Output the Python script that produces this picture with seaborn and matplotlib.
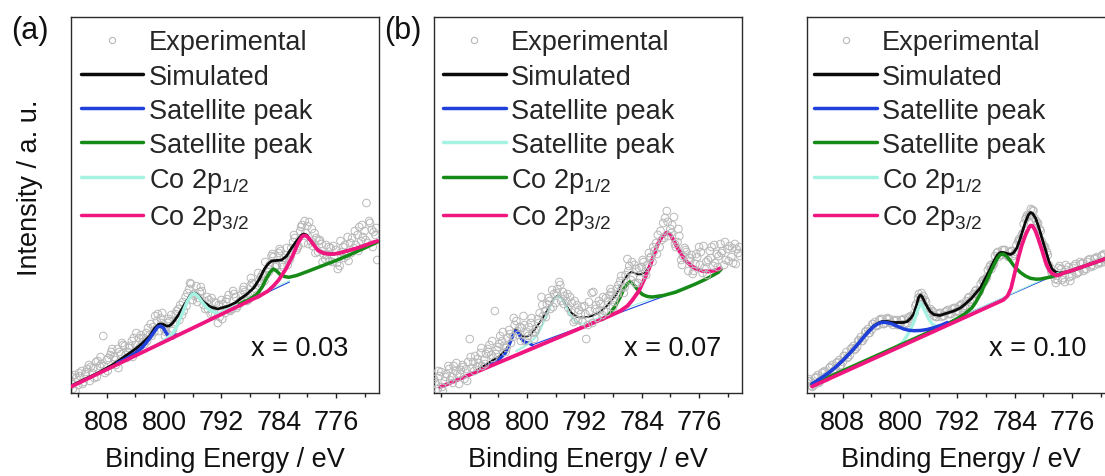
import numpy as np
import matplotlib
matplotlib.use('Agg')
import matplotlib.pyplot as plt
from matplotlib.lines import Line2D
import seaborn as sns

# ---------------- data (intensity in arbitrary units, 0 = bottom of frame) ----------------
# measurement grids of the three interleaved scans (binding energy, eV)
energy_1 = np.arange(813.0, 770.4, -0.5)
energy_2 = energy_1 - 0.25
energy_3 = energy_1 - 0.125

# (a) x = 0.03
a_exp_1 = [12, 18, 8, 22, 19, 28, 20, 31, 27, 57,
           33, 38, 36, 44, 39, 47, 41, 52, 48, 55,
           51, 60, 58, 66, 72, 75, 64, 70, 78, 69,
           84, 78, 96, 104, 93, 107, 101, 88, 96, 79,
           91, 70, 93, 80, 98, 84, 96, 89, 103, 92,
           107, 109, 98, 116, 112, 124, 137, 126, 140, 128,
           138, 133, 151, 143, 162, 150, 167, 152, 160, 141,
           149, 134, 146, 131, 143, 127, 146, 137, 150, 145,
           158, 152, 162, 150, 163, 158]
a_exp_2 = [4, 15, 17, 11, 24, 26, 15, 32, 29, 20,
           35, 44, 28, 41, 48, 35, 47, 55, 43, 58,
           49, 65, 57, 77, 62, 80, 61, 72, 64, 82,
           88, 82, 100, 109, 97, 95, 102, 84, 93, 80,
           90, 76, 89, 94, 82, 99, 87, 98, 101, 93,
           110, 104, 112, 119, 118, 128, 136, 127, 142, 135,
           128, 145, 155, 147, 168, 160, 171, 147, 155, 153,
           139, 138, 145, 136, 124, 141, 148, 132, 155, 148,
           166, 156, 190, 170, 161, 133]
a_exp_3 = [16, 2, 20, 9, 21, 12, 25, 16, 36, 27,
           22, 41, 33, 25, 50, 38, 45, 36, 60, 46,
           55, 52, 69, 61, 79, 70, 57, 74, 62, 79,
           73, 91, 87, 110, 99, 91, 106, 92, 84, 95,
           78, 88, 74, 91, 83, 102, 85, 92, 106, 95,
           115, 101, 120, 110, 131, 121, 139, 128, 144, 126,
           145, 136, 158, 145, 166, 172, 149, 164, 140, 152,
           131, 148, 132, 147, 130, 152, 135, 156, 140, 162,
           142, 168, 153, 172, 146, 165]
a_sim_x = [813, 809, 807, 805, 804, 803, 802, 801.3, 800.7, 800.2,
           799.7, 799.3, 798.8, 798, 797, 796.3, 795.8, 795.3, 794.5, 793.5,
           792.5, 791, 790, 789.4, 788.5, 787.5, 786.7, 786, 785.5, 785,
           784.4, 783.6, 782.9, 782.2, 781.5, 780.8, 780.5, 780.1, 779.6, 779,
           778.5, 777.8, 777, 776.3, 775.5, 774.5, 773, 772, 770.8, 770.2]
a_sim_y = [7, 21, 29, 39, 44, 50, 57, 65, 69, 69,
           67, 67, 70, 78, 90, 98, 100, 98, 91, 86,
           84, 87, 90.5, 94, 98.5, 105, 114, 124, 129, 132,
           132.5, 133, 137, 145, 152, 158, 159, 158, 153, 147,
           142.5, 140, 139, 139, 140, 142, 145, 147.5, 150.7, 152]
a_blue_x = [806.5, 805, 804, 803, 802.2, 801.5, 800.9, 800.5, 800.1, 799.7, 799.3, 798.8, 798.3]
a_blue_y = [30, 35.5, 40, 46, 53, 60, 66, 67, 65, 60, 56, 55, 58]
a_green_x = [789.5, 788, 787, 786.3, 785.7, 785.2, 784.75, 784.3, 783.8, 783.2,
             782.6, 781.5, 780, 778, 776, 774, 772, 770.8, 770.2]
a_green_y = [89, 94, 99, 106, 115, 121, 124, 122, 118.5, 116.5,
             115.7, 117.5, 121.5, 127, 132.5, 138.5, 145, 149, 151]
a_cyan_x = [801.5, 800.5, 799.5, 798.8, 798.2, 797.5, 796.8, 796.2, 795.8, 795.3,
            794.6, 794, 793.3, 792.5]
a_cyan_y = [46, 50, 55, 60, 67, 79, 91, 98, 99.5, 97, 90, 85, 81.5, 80]
a_pink_x = [813, 786.5, 785.5, 784.75, 784, 783, 782, 781.3, 780.8, 780.5,
            780.1, 779.6, 779, 778.5, 777.8, 777, 776.3, 775.5, 774.5, 773,
            772, 770.8, 770.2]
a_pink_y = [6.3, 97.7, 102, 107, 113, 124, 138, 150, 156, 157.5,
            157, 153, 147, 142.5, 140, 139, 139, 140, 142, 145,
            147.5, 150.7, 152]
a_blue_bg = ([798.3, 782.5], [58, 111])
a_cyan_bg = ([792.5, 782.5], [80, 112.5])

# (b) x = 0.07
b_exp_1 = [14, 4, 21, 12, 27, 16, 22, 9, 28, 24,
           54, 31, 26, 40, 33, 44, 38, 82, 46, 52,
           41, 63, 56, 72, 66, 77, 61, 70, 54, 74,
           96, 82, 95, 103, 90, 111, 101, 92, 96, 71,
           88, 79, 87, 68, 100, 84, 92, 78, 95, 98,
           86, 104, 112, 100, 134, 113, 128, 110, 126, 121,
           140, 131, 150, 146, 170, 182, 164, 176, 151, 133,
           145, 122, 138, 129, 146, 120, 131, 142, 127, 139,
           149, 128, 144, 136, 149, 140]
b_exp_2 = [9, 17, 2, 19, 13, 27, 19, 23, 14, 31,
           25, 37, 30, 27, 39, 48, 35, 43, 57, 47,
           55, 50, 68, 58, 65, 52, 66, 60, 64, 80,
           77, 89, 84, 99, 104, 92, 97, 85, 90, 73,
           83, 71, 54, 82, 101, 75, 89, 82, 92, 101,
           95, 108, 105, 118, 127, 116, 124, 114, 131, 128,
           136, 142, 158, 153, 175, 157, 168, 146, 157, 137,
           141, 132, 122, 136, 141, 125, 133, 146, 130, 137,
           142, 133, 147, 130, 144, 137]
b_exp_3 = [11, 22, 6, 16, 24, 10, 30, 19, 26, 12,
           36, 22, 34, 45, 29, 41, 52, 39, 49, 61,
           45, 59, 75, 62, 52, 68, 57, 75, 61, 70,
           88, 76, 92, 86, 100, 108, 89, 99, 81, 92,
           73, 86, 79, 91, 70, 88, 83, 96, 81, 104,
           91, 99, 117, 106, 122, 131, 110, 125, 133, 118,
           135, 146, 139, 162, 155, 171, 160, 149, 164, 128,
           143, 135, 119, 139, 128, 147, 118, 135, 148, 126,
           140, 151, 132, 145, 129, 146]
b_sim_x = [812.2, 808, 805, 804, 803, 802.5, 802, 801.7, 801.3, 800.7,
           800.2, 799.6, 799, 798, 797, 796.2, 795.7, 795.2, 794.5, 793.8,
           793, 792, 791, 790, 789, 788.3, 787.6, 787, 786.5, 786,
           785.5, 785, 784.5, 784, 783.5, 783, 782.3, 781.8, 781.2, 780.5,
           780, 779.5, 779, 778.4, 777.9, 777.2, 776.5, 775.5, 774.7, 773.8, 773]
b_sim_y = [5.7, 18, 32, 36, 43, 49, 58, 64, 63, 57,
           56, 58, 63, 73, 85, 95, 97.5, 95, 87, 80,
           76, 75.5, 77, 80, 86, 92, 98, 106, 113, 118,
           121, 120, 118.5, 119, 121, 126, 138, 148, 156, 160.5,
           158.5, 152, 145, 138, 132.5, 128, 124.5, 122, 121.5, 122.5, 124.7]
b_blue_x = [806, 804, 803, 802.5, 802, 801.7, 801.3, 800.8, 800.3, 799.8, 799.3]
b_blue_y = [24.5, 33, 40, 48, 57, 62, 61, 54, 51, 50, 48]
b_cyan_x = [801.5, 800.5, 799.5, 798.8, 798.2, 797.5, 796.8, 796.2, 795.7, 795.2,
            794.5, 794, 793.3, 792.5]
b_cyan_y = [42, 46, 51, 56, 63, 74, 86, 94, 97, 94.5, 86, 78, 72, 69]
b_green_x = [789.5, 788.5, 787.6, 787, 786.5, 786, 785.6, 785.2, 784.8, 784.4,
             783.9, 783.2, 782.5, 781, 779.3, 778, 776.5, 775, 773.3, 772.9]
b_green_y = [73.5, 79, 88, 96, 104, 109.5, 111.3, 109, 105.5, 102,
             98.5, 96.5, 96, 97.5, 100.7, 104.5, 109, 114, 120.7, 124]
b_pink_x = [812.2, 788.5, 787, 786, 785.3, 784.4, 783.5, 783, 782.3, 781.8,
            781.2, 780.5, 780, 779.5, 779, 778.4, 777.9, 777.2, 776.5, 775.5,
            774.7, 773.8, 773]
b_pink_y = [5.7, 77, 82, 87, 93, 102, 116, 124, 138, 148,
            156, 160.5, 158.5, 152, 145, 138, 132.5, 128, 124.5, 122,
            121.5, 122.5, 124.7]
b_blue_bg = ([799.3, 777], [48, 107])
b_cyan_bg = ([792.5, 777], [69, 108.5])

# (c) x = 0.10
c_exp_1 = [10, 12, 8, 18, 14, 22, 19, 28, 24, 33,
           31, 41, 38, 47, 46, 56, 55, 64, 63, 71,
           68, 74, 70, 74, 68, 73, 69, 74, 70, 77,
           80, 95, 100, 93, 82, 82, 76, 80, 77, 82,
           79, 85, 82, 88, 87, 95, 93, 102, 101, 112,
           114, 126, 128, 140, 138, 143, 137, 142, 139, 152,
           158, 174, 177, 183, 172, 164, 148, 141, 125, 118,
           113, 124, 111, 126, 117, 129, 121, 130, 124, 134,
           127, 136, 130, 139, 133, 140]
c_exp_2 = [14, 6, 16, 11, 21, 17, 26, 22, 31, 28,
           37, 36, 45, 44, 53, 52, 62, 60, 69, 67,
           74, 69, 75, 70, 72, 68, 73, 69, 76, 76,
           89, 96, 97, 85, 84, 77, 79, 76, 81, 79,
           84, 81, 87, 85, 92, 91, 99, 99, 109, 111,
           123, 124, 137, 136, 143, 138, 141, 137, 148, 152,
           169, 178, 184, 175, 170, 152, 146, 128, 119, 110,
           127, 115, 123, 112, 127, 120, 129, 124, 133, 128,
           135, 131, 138, 133, 139, 137]
c_exp_3 = [12, 7, 15, 10, 20, 15, 25, 21, 30, 27,
           37, 35, 44, 43, 52, 52, 61, 60, 69, 67,
           73, 69, 74, 70, 73, 68, 73, 69, 75, 74,
           87, 99, 93, 91, 80, 81, 76, 80, 77, 83,
           79, 85, 82, 89, 87, 96, 94, 103, 102, 113,
           116, 128, 130, 141, 138, 143, 136, 142, 141, 154,
           160, 176, 178, 182, 169, 162, 145, 138, 121, 114,
           125, 113, 128, 116, 125, 119, 131, 122, 131, 126,
           134, 129, 137, 131, 138, 134]
c_sim_x = [812.3, 811, 810, 809.3, 808, 807, 806, 805.1, 804.5, 803.7,
           803, 802.5, 801.8, 801, 800.4, 799.5, 799, 798.5, 798.1, 797.7,
           797.4, 797.15, 796.9, 796.5, 796.2, 795.8, 795.3, 794.5, 793.4, 792.5,
           791.6, 790.9, 790, 789.3, 788.8, 788, 787.3, 786.9, 786.4, 786,
           785.6, 785.1, 784.6, 784.2, 783.7, 783.3, 782.9, 782.5, 782.1, 781.8,
           781.5, 781.1, 780.7, 780.2, 779.7, 779.2, 778.8, 778.3, 777.8, 777,
           776, 774, 772, 770.3]
c_sim_y = [9, 15, 20, 24, 32.5, 40, 48, 56, 61, 67,
           70, 71.5, 71.5, 70.5, 70.5, 70.5, 71.5, 75, 79, 88,
           96, 98, 96, 90, 86, 81.5, 78.5, 77.5, 80, 82,
           85, 89, 95, 101, 105, 116, 126, 132, 138, 140.5,
           140.5, 139.5, 138.5, 140, 145, 153, 162, 171, 178, 180.5,
           179.5, 175, 167, 155, 143, 131, 124, 121, 120, 120.5,
           122.5, 127.5, 132.5, 137]
c_blue_x = [812.3, 811, 810, 809.3, 808, 807, 806, 805.1, 804.5, 803.7,
            803, 802.5, 801.8, 801.1, 800.3, 799.5, 798.8, 798.1, 797.2, 796.2,
            795.1, 794.2, 793.4]
c_blue_y = [9, 15, 20, 24, 32.5, 40, 48, 55.7, 60.5, 66.5,
            69.5, 70.7, 70.3, 69, 66.5, 64, 62.8, 62.3, 62.5, 63.5,
            65.7, 68, 70.5]
c_green_x = [812.3, 795, 793, 792, 791, 790, 789.5, 788.8, 788, 787.3,
             786.9, 786.4, 786, 785.6, 785.1, 784.6, 784, 783.2, 782.5, 781.8,
             781, 780.4, 779.7, 779, 778.1, 777.6, 777, 776, 774, 772, 770.3]
c_green_y = [8.5, 64, 70.5, 74.5, 79, 85, 90, 99, 111, 122,
             128, 135, 138.5, 139, 136.5, 132, 126, 120.5, 117, 114.7,
             113.8, 114, 115, 116, 118, 119, 120.5, 122.5, 127.5, 132.5, 137]
c_cyan_x = [801.1, 800.3, 799.5, 798.8, 798.1, 797.6, 797.15, 796.8, 796.45, 796,
            795.5, 795, 794.5]
c_cyan_y = [43.5, 47, 52, 60, 70.5, 82, 90, 86, 80.5, 74, 69, 67, 66.5]
c_pink_x = [812.3, 785.6, 785, 784.5, 784, 783.5, 783, 782.5, 782, 781.8,
            781.5, 781.1, 780.7, 780.2, 779.7, 779.2, 778.8, 778.2, 777.6, 777,
            776, 774, 772, 770.3]
c_pink_y = [6.5, 93, 97, 105, 120, 135, 148, 158, 165.5, 167.5,
            167, 162, 154, 143, 131, 123, 119.5, 117.5, 118.5, 120.5,
            122.5, 127.5, 132.5, 137]
c_blue_bg = ([793.4, 777.8], [70.5, 119.8])
c_cyan_bg = ([794.5, 777.8], [66.5, 121])

legend_labels = ['Experimental', 'Simulated', 'Satellite peak', 'Satellite peak',
                 r'Co 2p$_{\mathregular{1/2}}$', r'Co 2p$_{\mathregular{3/2}}$']
notes = ['x = 0.03', 'x = 0.07', 'x = 0.10']

# ---------------- style ----------------
BLACK = '#0a0a0a'
BLUE = '#2040dc'
GREEN = '#168a16'
CYAN = '#a6f2e2'
PINK = '#ef167f'
GREY = '#b8b8b8'
TXT = '#111111'
FS = 19.5

sns.set_theme(style='white')
plt.rcParams['font.family'] = ['Liberation Sans', 'DejaVu Sans']
plt.rcParams['mathtext.fontset'] = 'custom'
plt.rcParams['mathtext.rm'] = 'Liberation Sans'
plt.rcParams['mathtext.it'] = 'Liberation Sans:italic'
plt.rcParams['mathtext.bf'] = 'Liberation Sans:bold'

fig = plt.figure(figsize=(11.05, 4.77), dpi=100)
lefts = [71, 434, 807]
axes = [fig.add_axes([l / 1105, 83 / 477, 308 / 1105, 376 / 477]) for l in lefts]


def draw_panel(ax, exps, curves, bg_lines, dots_on_top):
    dot_z = 6 if dots_on_top else 1
    sns.scatterplot(x=np.concatenate([energy_1, energy_2, energy_3]),
                    y=np.concatenate(exps),
                    ax=ax, marker='o', s=30, facecolor='none', edgecolor=GREY,
                    linewidth=0.7, zorder=dot_z, legend=False)
    for cx, cy, col, lw, z in bg_lines + curves:
        sns.lineplot(x=cx, y=cy, ax=ax, color=col, linewidth=lw, sort=False,
                     estimator=None, zorder=z, legend=False)


draw_panel(axes[0], [a_exp_1, a_exp_2, a_exp_3],
           [(a_sim_x, a_sim_y, BLACK, 2.0, 2), (a_blue_x, a_blue_y, BLUE, 2.5, 3),
            (a_cyan_x, a_cyan_y, CYAN, 2.5, 3), (a_green_x, a_green_y, GREEN, 2.5, 3.2),
            (a_pink_x, a_pink_y, PINK, 2.7, 4)],
           [(*a_blue_bg, BLUE, 0.8, 2.5), (*a_cyan_bg, CYAN, 0.8, 2.6)], False)
draw_panel(axes[1], [b_exp_1, b_exp_2, b_exp_3],
           [(b_sim_x, b_sim_y, BLACK, 1.4, 2), (b_blue_x, b_blue_y, BLUE, 2.2, 3),
            (b_cyan_x, b_cyan_y, CYAN, 1.6, 3), (b_green_x, b_green_y, GREEN, 2.5, 3.2),
            (b_pink_x, b_pink_y, PINK, 2.8, 4)],
           [(*b_blue_bg, BLUE, 0.8, 2.5), (*b_cyan_bg, CYAN, 0.8, 2.6)], True)
draw_panel(axes[2], [c_exp_1, c_exp_2, c_exp_3],
           [(c_sim_x, c_sim_y, BLACK, 2.0, 2), (c_cyan_x, c_cyan_y, CYAN, 2.4, 3),
            (c_green_x, c_green_y, GREEN, 2.5, 3.1), (c_blue_x, c_blue_y, BLUE, 2.5, 3.2),
            (c_pink_x, c_pink_y, PINK, 2.7, 4)],
           [(*c_blue_bg, BLUE, 0.8, 2.5), (*c_cyan_bg, CYAN, 0.8, 2.6)], False)

legend_colors = [[BLACK, BLUE, GREEN, CYAN, PINK],
                 [BLACK, BLUE, CYAN, GREEN, PINK],
                 [BLACK, BLUE, GREEN, CYAN, PINK]]
legend_x = [0.032, 0.030, 0.024]
note_x = [0.899, 0.934, 0.908]

for i, ax in enumerate(axes):
    ax.set_xlim(813, 770)
    ax.set_ylim(0, 376)
    ax.set_xticks([808, 800, 792, 784, 776])
    ax.set_xticks([812, 804, 796, 788, 780, 772], minor=True)
    ax.set_yticks([])
    ax.tick_params(axis='x', which='both', bottom=True, direction='out',
                   width=1.0, color='#222222', labelsize=FS,
                   pad=8.0, labelcolor=TXT)
    ax.tick_params(axis='x', which='major', length=3.6)
    ax.tick_params(axis='x', which='minor', length=2.8)
    for s in ax.spines.values():
        s.set_visible(True)
        s.set_linewidth(1.0)
        s.set_color('#2a2a2a')
    ax.set_xlabel('Binding Energy / eV', fontsize=FS, labelpad=7.5, color=TXT)
    ax.set_ylabel('')

    handles = [Line2D([], [], ls='none', marker='o', ms=4.5, mfc='none',
                      mec=GREY, mew=0.8)]
    handles += [Line2D([], [], color=c, lw=2.5) for c in legend_colors[i]]
    ax.legend(handles, legend_labels, loc='upper left',
              bbox_to_anchor=(legend_x[i], 0.967),
              frameon=False, fontsize=FS, handlelength=2.3, handletextpad=0.2,
              labelspacing=0.3, borderpad=0, borderaxespad=0)
    ax.text(note_x[i], 0.101, notes[i], transform=ax.transAxes, ha='right',
            va='baseline', fontsize=FS, color=TXT)

axes[0].set_ylabel('Intensity / a. u.', fontsize=FS, color=TXT)
axes[0].yaxis.set_label_coords(-0.091, 0.549)

fig.text(11 / 1105, 1 - 38.5 / 477, '(a)', fontsize=22, va='baseline', color=TXT)
fig.text(384 / 1105, 1 - 38.5 / 477, '(b)', fontsize=22, va='baseline', color=TXT)

fig.savefig('out.png', dpi=100)
